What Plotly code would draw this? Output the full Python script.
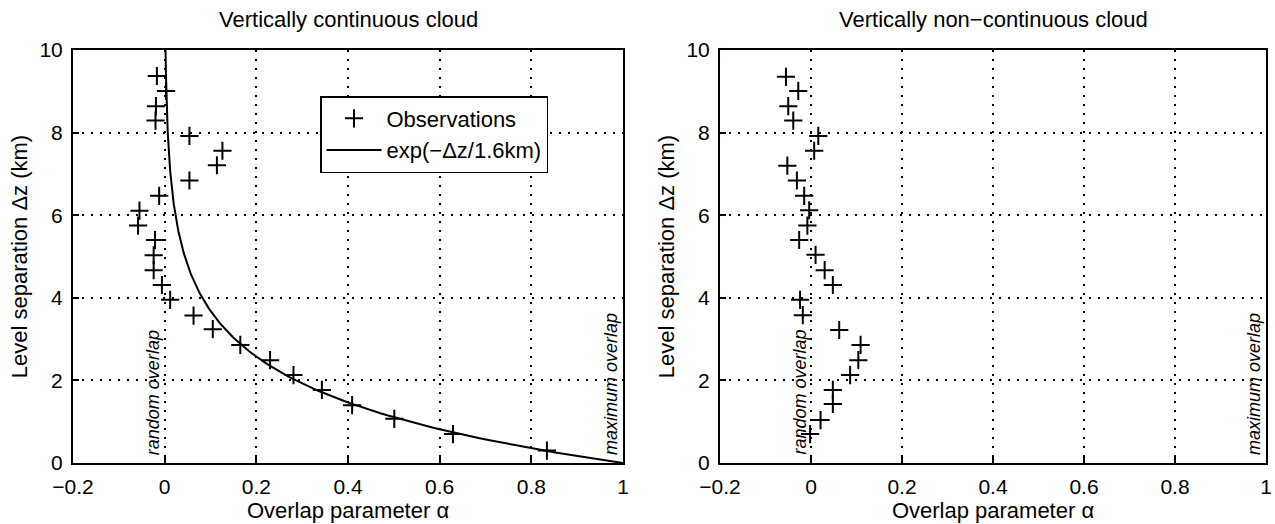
import numpy as np
import plotly.graph_objects as go

# Left panel: vertically continuous cloud
cont_dz = [0.30, 0.70, 1.07, 1.40, 1.77, 2.13, 2.49, 2.86, 3.24, 3.57, 3.95, 4.31, 4.67,
           5.03, 5.40, 5.75, 6.11, 6.47, 6.84, 7.21, 7.56, 7.92, 8.29, 8.64, 9.01, 9.37]
cont_alpha = [0.834, 0.629, 0.501, 0.409, 0.343, 0.281, 0.230, 0.165, 0.105, 0.063, 0.012, -0.006, -0.024,
              -0.024, -0.021, -0.058, -0.055, -0.012, 0.054, 0.114, 0.126, 0.054, -0.020, -0.019, 0.003, -0.017]

# Right panel: vertically non-continuous cloud
nonc_dz = [0.70, 1.04, 1.43, 1.77, 2.13, 2.49, 2.86, 3.22, 3.58, 3.95, 4.31, 4.67,
           5.04, 5.40, 5.75, 6.12, 6.47, 6.84, 7.20, 7.56, 7.92, 8.29, 8.64, 9.01, 9.35]
nonc_alpha = [-0.002, 0.021, 0.048, 0.048, 0.086, 0.104, 0.109, 0.062, -0.018, -0.024, 0.048, 0.030,
              0.010, -0.026, -0.008, -0.004, -0.015, -0.031, -0.052, 0.007, 0.016, -0.039, -0.050, -0.028, -0.055]

decorr_km = 1.6
model_dz = np.linspace(0, 10, 201)
model_alpha = np.exp(-model_dz / decorr_km)

x_ticks = [-0.2, 0, 0.2, 0.4, 0.6, 0.8, 1]
x_ticktext = ["\u22120.2", "0", "0.2", "0.4", "0.6", "0.8", "1"]
y_ticks = [0, 2, 4, 6, 8, 10]

FONT = "Liberation Sans, Arial, Helvetica, sans-serif"
W, H = 1275, 524
TICK = 21
LAB = 22

fig = go.Figure()
marker = dict(symbol="cross-thin", size=13, line=dict(color="black", width=2), color="black")

fig.add_trace(go.Scatter(x=cont_alpha, y=cont_dz, mode="markers", marker=marker,
                         name="Observations", xaxis="x", yaxis="y"))
fig.add_trace(go.Scatter(x=model_alpha, y=model_dz, mode="lines",
                         line=dict(color="black", width=2),
                         name="exp(\u2212\u0394z/1.6km)", xaxis="x", yaxis="y"))
fig.add_trace(go.Scatter(x=nonc_alpha, y=nonc_dz, mode="markers", marker=marker,
                         showlegend=False, xaxis="x2", yaxis="y2"))

ydom = [1 - 463 / H, 1 - 50 / H]
grid_style = dict(showgrid=True, gridcolor="black", griddash="2px,7px", gridwidth=1.6,
                  zeroline=False, showline=True, linecolor="black", linewidth=2, mirror=True,
                  ticks="inside", ticklen=6, tickcolor="black", tickwidth=1.5, automargin=False,
                  tickfont=dict(size=TICK, color="black", family=FONT))
common_x = dict(range=[-0.2, 1], tickvals=x_ticks, ticktext=x_ticktext, ticklabelstandoff=4,
                title=dict(text="Overlap parameter \u03b1", font=dict(size=LAB, color="black", family=FONT), standoff=0),
                **grid_style)
common_y = dict(range=[0, 10], tickvals=y_ticks, ticklabelstandoff=4,
                title=dict(text="Level separation \u0394z (km)", font=dict(size=LAB, color="black", family=FONT), standoff=6),
                **grid_style)

fig.update_layout(
    width=W, height=H,
    margin=dict(l=0, r=0, t=0, b=0, autoexpand=False),
    paper_bgcolor="white", plot_bgcolor="white",
    font=dict(family=FONT, color="black", size=LAB),
    xaxis=dict(domain=[73 / W, 623 / W], anchor="y", **common_x),
    yaxis=dict(domain=ydom, anchor="x", **common_y),
    xaxis2=dict(domain=[720 / W, 1266 / W], anchor="y2", **common_x),
    yaxis2=dict(domain=ydom, anchor="x2", **common_y),
    legend=dict(x=320 / W, y=1 - 96 / H, xanchor="left", yanchor="top",
                bordercolor="black", borderwidth=1.5, bgcolor="white",
                font=dict(size=LAB, color="black", family=FONT),
                tracegroupgap=0, itemwidth=55),
    showlegend=True,
    annotations=[
        dict(text="Vertically continuous cloud", xref="paper", yref="paper",
             x=(73 + 623) / 2 / W, y=1 - 20 / H, xanchor="center", yanchor="middle",
             showarrow=False, font=dict(size=LAB, family=FONT, color="black")),
        dict(text="Vertically non\u2212continuous cloud", xref="paper", yref="paper",
             x=(720 + 1266) / 2 / W, y=1 - 20 / H, xanchor="center", yanchor="middle",
             showarrow=False, font=dict(size=LAB, family=FONT, color="black")),
        dict(text="<i>random overlap</i>", xref="x", yref="y", x=0, y=0, xanchor="right",
             yanchor="bottom", xshift=0, yshift=6, textangle=-90, showarrow=False,
             font=dict(size=18, family=FONT, color="black")),
        dict(text="<i>maximum overlap</i>", xref="x", yref="y", x=1, y=0, xanchor="right",
             yanchor="bottom", xshift=0, yshift=6, textangle=-90, showarrow=False,
             font=dict(size=18, family=FONT, color="black")),
        dict(text="<i>random overlap</i>", xref="x2", yref="y2", x=0, y=0, xanchor="right",
             yanchor="bottom", xshift=0, yshift=6, textangle=-90, showarrow=False,
             font=dict(size=18, family=FONT, color="black")),
        dict(text="<i>maximum overlap</i>", xref="x2", yref="y2", x=1, y=0, xanchor="right",
             yanchor="bottom", xshift=0, yshift=6, textangle=-90, showarrow=False,
             font=dict(size=18, family=FONT, color="black")),
    ],
)

fig.write_html("out.html")
